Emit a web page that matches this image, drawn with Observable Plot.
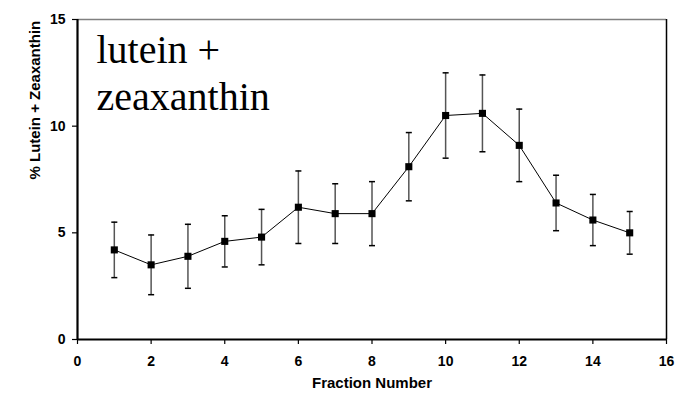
<!DOCTYPE html>
<html>
<head>
<meta charset="utf-8">
<script src="https://cdn.jsdelivr.net/npm/d3@7"></script>
<script src="https://cdn.jsdelivr.net/npm/@observablehq/plot@0.6"></script>
<style>
  html, body { margin: 0; padding: 0; background: #fff; }
  #chart svg { display: block; }
</style>
</head>
<body>
<div id="chart"></div>
<script>
const fractions = [1, 2, 3, 4, 5, 6, 7, 8, 9, 10, 11, 12, 13, 14, 15];
const percent   = [4.2, 3.5, 3.9, 4.6, 4.8, 6.2, 5.9, 5.9, 8.1, 10.5, 10.6, 9.1, 6.4, 5.6, 5.0];
const errHigh   = [5.5, 4.9, 5.4, 5.8, 6.1, 7.9, 7.3, 7.4, 9.7, 12.5, 12.4, 10.8, 7.7, 6.8, 6.0];
const errLow    = [2.9, 2.1, 2.4, 3.4, 3.5, 4.5, 4.5, 4.4, 6.5, 8.5, 8.8, 7.4, 5.1, 4.4, 4.0];
const xTicks = [0, 2, 4, 6, 8, 10, 12, 14, 16];
const yTicks = [0, 5, 10, 15];
const titleText = "lutein +\nzeaxanthin";
const xLabel = "Fraction Number";
const yLabel = "% Lutein + Zeaxanthin";

const data = fractions.map((f, i) => ({f, v: percent[i], hi: errHigh[i], lo: errLow[i]}));
const caps = data.flatMap(d => [{f: d.f, y: d.hi}, {f: d.f, y: d.lo}]);

const capSymbol = {
  draw(ctx, size) {
    const w = Math.sqrt(size) / 2;
    ctx.moveTo(-w, 0);
    ctx.lineTo(w, 0);
  }
};

const font = "'Liberation Sans', Arial, sans-serif";

const chart = Plot.plot({
  width: 676,
  height: 395,
  marginLeft: 77,
  marginRight: 10,
  marginTop: 19,
  marginBottom: 56,
  style: {fontFamily: font, background: "#fff", overflow: "visible"},
  x: {domain: [0, 16]},
  y: {domain: [0, 15]},
  marks: [
    Plot.ruleY([15], {stroke: "#808080", strokeWidth: 1.5}),
    Plot.ruleX([16], {stroke: "#000", strokeWidth: 1.5}),
    Plot.axisX({ticks: xTicks, tickSize: 5, tickPadding: 12, label: null,
      fontSize: 14, fontWeight: "bold", fill: "#000", stroke: "#000", strokeWidth: 1.2}),
    Plot.axisY({ticks: yTicks, tickSize: 5, tickPadding: 7, label: null,
      fontSize: 14, fontWeight: "bold", fill: "#000", stroke: "#000", strokeWidth: 1.2}),
    Plot.ruleX([0], {stroke: "#000", strokeWidth: 2.2}),
    Plot.ruleY([0], {stroke: "#000", strokeWidth: 2.2}),
    Plot.ruleX(data, {x: "f", y1: "lo", y2: "hi", stroke: "#555", strokeWidth: 1.5}),
    Plot.dot(caps, {x: "f", y: "y", symbol: capSymbol, r: 3.4, stroke: "#000", strokeWidth: 1.5, fill: "none"}),
    Plot.line(data, {x: "f", y: "v", stroke: "#000", strokeWidth: 1}),
    Plot.dot(data, {x: "f", y: "v", symbol: "square", r: 4, fill: "#000", stroke: "none"}),
    Plot.text([titleText], {frameAnchor: "top-left", dx: 19, dy: 10.5, lineAnchor: "top",
      textAnchor: "start", fontSize: 40, lineHeight: 1.175,
      fontFamily: "'Liberation Serif', 'Times New Roman', serif", fill: "#000"}),
    Plot.text([xLabel], {frameAnchor: "bottom", dy: 48.5, fontSize: 15, fontWeight: "bold", fill: "#000"}),
    Plot.text([yLabel], {frameAnchor: "left", dx: -42, rotate: -90, fontSize: 15, fontWeight: "bold", fill: "#000"})
  ]
});
document.getElementById("chart").appendChild(chart);
</script>
</body>
</html>
